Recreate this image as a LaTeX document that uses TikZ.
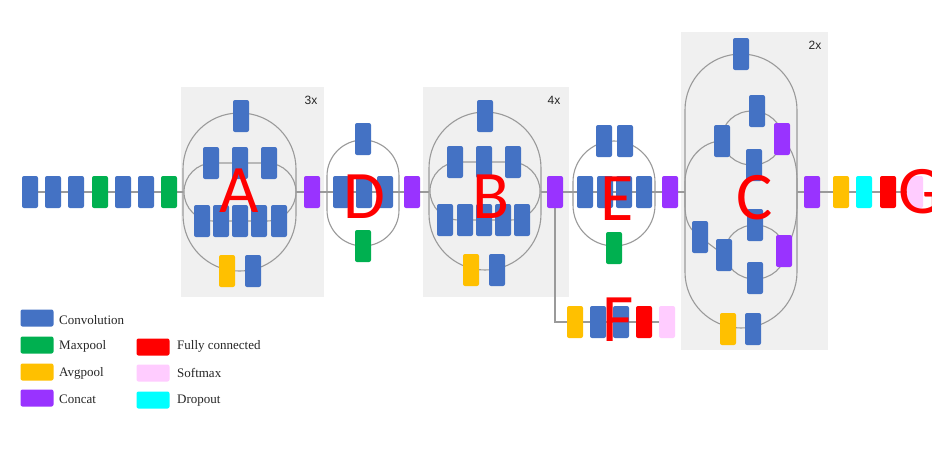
\documentclass[tikz,border=0pt]{standalone}
\usepackage{fontspec}
\setmainfont{Liberation Serif}
\newfontfamily\labfont{Carlito}
\newfontfamily\repfont{Liberation Sans}
\definecolor{cconv}{HTML}{4472C4}
\definecolor{cmax}{HTML}{00B050}
\definecolor{cavg}{HTML}{FFC000}
\definecolor{ccat}{HTML}{9933FF}
\definecolor{cfc}{HTML}{FF0000}
\definecolor{csoft}{HTML}{FFCCFF}
\definecolor{cdrop}{HTML}{00FFFF}
\definecolor{cbg}{HTML}{F0F0F0}
\definecolor{cline}{HTML}{9A9A9A}
\definecolor{ctext}{HTML}{262626}
\pgfdeclarelayer{bg}
\pgfdeclarelayer{lines}
\pgfsetlayers{bg,lines,main}
\begin{document}
\begin{tikzpicture}[x=1pt,y=-1pt,
  blk/.style={minimum width=16pt,minimum height=32pt,inner sep=0pt,rounded corners=2pt},
  conv/.style={blk,fill=cconv},
  maxp/.style={blk,fill=cmax},
  avgp/.style={blk,fill=cavg},
  cat/.style={blk,fill=ccat},
  fc/.style={blk,fill=cfc},
  soft/.style={blk,fill=csoft},
  drop/.style={blk,fill=cdrop},
  link/.style={draw=cline,line width=1.1pt},
  panel/.style={fill=cbg,draw=none},
  swatch/.style={minimum width=33pt,minimum height=17pt,inner sep=0pt,rounded corners=2pt},
  legtext/.style={anchor=base west,inner sep=0pt,text=ctext,font=\fontsize{13}{13}\selectfont},
  rep/.style={inner sep=0pt,text=ctext,font=\repfont\fontsize{12}{12}\selectfont},
  lab/.style={inner sep=0pt,text=cfc,font=\labfont\fontsize{68}{68}\selectfont}]
\useasboundingbox (0,0) rectangle (932,459);

% ---------- stem ----------
\node[conv] (s1) at (30,192) {};
\node[conv] (s2) at (53,192) {};
\node[conv] (s3) at (76,192) {};
\node[maxp] (s4) at (100,192) {};
\node[conv] (s5) at (123,192) {};
\node[conv] (s6) at (146,192) {};
\node[maxp] (s7) at (169,192) {};

% ---------- module A ----------
\coordinate (aL) at (183,192);
\coordinate (aR) at (296,192);
\node[conv] (a0) at (241,116) {};
\node[conv] (a31) at (211,163) {};
\node[conv] (a32) at (240,163) {};
\node[conv] (a33) at (269,163) {};
\node[conv] (a51) at (202,221) {};
\node[conv] (a52) at (221,221) {};
\node[conv] (a53) at (240,221) {};
\node[conv] (a54) at (259,221) {};
\node[conv] (a55) at (279,221) {};
\node[avgp] (ab1) at (227,271) {};
\node[conv] (ab2) at (253,271) {};
\node[cat] (acat) at (312,192) {};

% ---------- module D ----------
\coordinate (dL) at (327,192);
\coordinate (dR) at (399,192);
\node[conv] (d0) at (363,139) {};
\node[conv] (d1) at (341,192) {};
\node[conv] (d2) at (364,192) {};
\node[conv] (d3) at (385,192) {};
\node[maxp] (d4) at (363,246) {};
\node[cat] (dcat) at (412,192) {};

% ---------- module B ----------
\coordinate (bL) at (429,192);
\coordinate (bR) at (541,192);
\node[conv] (b0) at (485,116) {};
\node[conv] (b31) at (455,162) {};
\node[conv] (b32) at (484,162) {};
\node[conv] (b33) at (513,162) {};
\node[conv] (b51) at (445,220) {};
\node[conv] (b52) at (465,220) {};
\node[conv] (b53) at (484,220) {};
\node[conv] (b54) at (503,220) {};
\node[conv] (b55) at (522,220) {};
\node[avgp] (bb1) at (471,270) {};
\node[conv] (bb2) at (497,270) {};
\node[cat] (bcat) at (555,192) {};

% ---------- auxiliary F ----------
\node[avgp] (f1) at (575,322) {};
\node[conv] (f2) at (598,322) {};
\node[conv] (f3) at (621,322) {};
\node[fc] (f4) at (644,322) {};
\node[soft] (f5) at (667,322) {};

% ---------- module E ----------
\coordinate (eL) at (573,192);
\coordinate (eR) at (655,192);
\node[conv] (e01) at (604,141) {};
\node[conv] (e02) at (625,141) {};
\node[conv] (e1) at (585,192) {};
\node[conv] (e2) at (605,192) {};
\node[conv] (e3) at (624,192) {};
\node[conv] (e4) at (644,192) {};
\node[maxp] (e5) at (614,248) {};
\node[cat] (ecat) at (670,192) {};

% ---------- module C ----------
\coordinate (cL) at (685,192);
\coordinate (cR) at (797,192);
\node[conv] (c0) at (741,54) {};
\node[conv] (cu1) at (722,141) {};
\node[conv] (cu2) at (757,111) {};
\node[conv] (cu3) at (754,165) {};
\node[cat] (cu4) at (782,139) {};
\node[conv] (cl1) at (700,237) {};
\node[conv] (cl2) at (724,255) {};
\node[conv] (cl3) at (755,225) {};
\node[conv] (cl4) at (755,278) {};
\node[cat] (cl5) at (784,251) {};
\node[avgp] (cb1) at (728,329) {};
\node[conv] (cb2) at (753,329) {};
\node[cat] (ccat) at (812,192) {};

% ---------- head G ----------
\node[avgp] (g1) at (841,192) {};
\node[drop] (g2) at (864,192) {};
\node[fc] (g3) at (888,192) {};
\node[soft] (g4) at (915,192) {};

% ---------- background and panels ----------
\begin{pgfonlayer}{bg}
\fill[white] (0,0) rectangle (932,459);
\fill[panel] (181,87) rectangle (324,297);
\fill[panel] (423,87) rectangle (569,297);
\fill[panel] (681,32) rectangle (828,350);
\end{pgfonlayer}

% ---------- connectors and loops ----------
\begin{pgfonlayer}{lines}
\draw[link] (s1.center) -- (aL);
\draw[link] (aR) -- (acat.center) -- (dL) -- (dR) -- (dcat.center) -- (bL);
\draw[link] (bR) -- (bcat.center) -- (eL) -- (eR) -- (ecat.center) -- (cL);
\draw[link] (cR) -- (ccat.center) -- (g4.center);
\draw[link] (bcat.center) |- (f1.center) -- (f5.center);
% A
\draw[link,rounded corners=56pt] (183,113) rectangle (296,271);
\draw[link,rounded corners=29pt] (184,163) rectangle (296,221);
% D
\draw[link,rounded corners=36pt] (327,140) rectangle (399,246);
% B
\draw[link,rounded corners=56pt] (429,112) rectangle (541,270);
\draw[link,rounded corners=29pt] (430,162) rectangle (540,220);
% E
\draw[link,rounded corners=41pt] (573,141) rectangle (655,246);
% C
\draw[link,rounded corners=56pt] (685,54) rectangle (797,328);
\draw[link] (752,138) ellipse [x radius=30, y radius=27];
\draw[link] (755,252) ellipse [x radius=30, y radius=27];
\draw[link] (cu1.center) .. controls (702,141) and (685,160) .. (685,182) -- (685,205) .. controls (685,222) and (690,230) .. (cl1.center);
\draw[link] (cu4.center) .. controls (794,150) and (797,165) .. (797,182) -- (797,205) .. controls (797,225) and (792,240) .. (cl5.center);
\draw[link] (cl1.center) -- (cl2.center);
\end{pgfonlayer}

% ---------- repeat labels ----------
\node[rep] (r3) at (311,100) {3x};
\node[rep] (r4) at (554,100) {4x};
\node[rep] (r2) at (815,45) {2x};

% ---------- letters ----------
\node[lab] (LA) at (239,191) {A};
\node[lab] (LD) at (364,197) {D};
\node[lab] (LB) at (491,197) {B};
\node[lab] (LE) at (617,199) {E};
\node[lab] (LC) at (755,198) {C};
\node[lab,anchor=west] (LG) at (898,192) {G};
\node[lab] (LF) at (618,320) {F};

% ---------- legend ----------
\node[swatch,fill=cconv] (k1) at (37,318) {};
\node[swatch,fill=cmax] (k2) at (37,345) {};
\node[swatch,fill=cavg] (k3) at (37,372) {};
\node[swatch,fill=ccat] (k4) at (37,398) {};
\node[swatch,fill=cfc] (k5) at (153,347) {};
\node[swatch,fill=csoft] (k6) at (153,373) {};
\node[swatch,fill=cdrop] (k7) at (153,400) {};
\node[legtext] (t1) at (59,324) {Convolution};
\node[legtext] (t2) at (59,349.5) {Maxpool};
\node[legtext] (t3) at (59,376) {Avgpool};
\node[legtext] (t4) at (59,403) {Concat};
\node[legtext] (t5) at (177,349.5) {Fully connected};
\node[legtext] (t6) at (177,377) {Softmax};
\node[legtext] (t7) at (177,403) {Dropout};
\end{tikzpicture}
\end{document}
